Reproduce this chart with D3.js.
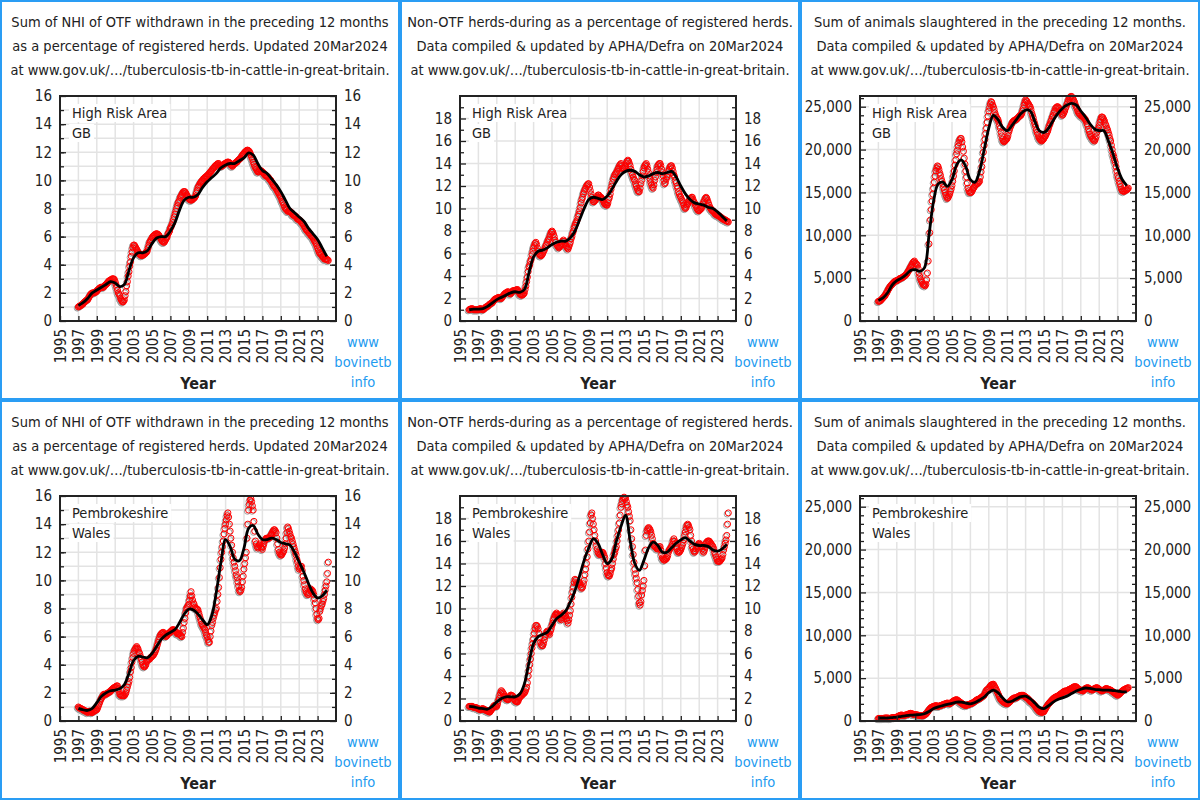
<!DOCTYPE html>
<html><head><meta charset="utf-8">
<script src="https://cdn.jsdelivr.net/npm/d3@7"></script>
<style>
body{margin:0;background:#fff}
svg{display:block}
text{font-family:'DejaVu Sans Condensed','DejaVu Sans',sans-serif}
</style>
</head><body>
<svg id="chart" width="1200" height="800"></svg>
<script>
// ---------- text ----------
const titleNHI = ["Sum of NHI of OTF withdrawn in the preceding 12 months",
  "as a percentage of registered herds. Updated 20Mar2024",
  "at www.gov.uk/…/tuberculosis-tb-in-cattle-in-great-britain."];
const titleNonOTF = ["Non-OTF herds-during as a percentage of registered herds.",
  "Data compiled & updated by APHA/Defra on 20Mar2024",
  "at www.gov.uk/…/tuberculosis-tb-in-cattle-in-great-britain."];
const titleSlaughter = ["Sum of animals slaughtered in the preceding 12 months.",
  "Data compiled & updated by APHA/Defra on 20Mar2024",
  "at www.gov.uk/…/tuberculosis-tb-in-cattle-in-great-britain."];
const areaHRA = ["High Risk Area", "GB"];
const areaPem = ["Pembrokeshire", "Wales"];
const siteLines = ["www", "bovinetb", "info"];
const xLabel = "Year";

// ---------- ticks ----------
const xTickYears = [1995,1997,1999,2001,2003,2005,2007,2009,2011,2013,2015,2017,2019,2021,2023];
const pctTicks16 = [0,2,4,6,8,10,12,14,16];
const pctGrid16 = [1,2,3,4,5,6,7,8,9,10,11,12,13,14,15];
const pctTicks20 = [0,2,4,6,8,10,12,14,16,18];
const pctGrid20 = [2,4,6,8,10,12,14,16,18];
const pctMinor20 = [1,3,5,7,9,11,13,15,17,19];
const animalTicks = [0,5,10,15,20,25];          // thousands
const animalMinor = [1,2,3,4,6,7,8,9,11,12,13,14,16,17,18,19,21,22,23,24,26];

// ---------- data ----------
// points: monthly readings (one row per year); line: half-yearly smoothed readings
const nhiHRA_start = 1997;
const nhiHRA_pts = [
 1.0,1.05,1.05,1.1,1.15,1.2,1.2,1.3,1.35,1.4,1.45,1.5,
 1.5,1.6,1.7,1.8,1.9,1.95,2.0,2.0,2.0,2.0,2.05,2.1,
 2.1,2.2,2.25,2.3,2.35,2.4,2.4,2.4,2.4,2.4,2.5,2.55,
 2.6,2.65,2.7,2.8,2.85,2.9,2.9,2.95,3.0,3.0,3.0,2.95,
 2.8,2.6,2.4,2.2,2.0,1.9,1.8,1.6,1.5,1.4,1.35,1.4,
 1.5,1.8,2.1,2.5,2.8,3.2,3.5,3.9,4.2,4.6,4.9,5.2,
 5.4,5.4,5.3,5.2,5.1,5.0,4.9,4.8,4.75,4.7,4.65,4.65,
 4.7,4.7,4.75,4.8,4.85,4.9,5.0,5.2,5.4,5.6,5.7,5.8,
 5.9,6.0,6.05,6.1,6.15,6.2,6.2,6.2,6.15,6.1,6.0,5.9,
 5.8,5.7,5.65,5.6,5.6,5.7,5.8,5.9,6.0,6.2,6.3,6.4,
 6.6,6.7,6.85,7.0,7.2,7.4,7.6,7.8,8.0,8.2,8.4,8.5,
 8.6,8.8,8.9,9.0,9.1,9.2,9.2,9.2,9.1,9.0,8.9,8.8,
 8.7,8.65,8.6,8.6,8.6,8.65,8.7,8.75,8.8,8.9,9.1,9.3,
 9.5,9.6,9.7,9.8,9.9,9.95,10.0,10.1,10.15,10.2,10.25,10.3,
 10.3,10.4,10.45,10.5,10.6,10.65,10.7,10.8,10.85,10.9,11.0,11.05,
 11.1,11.15,11.2,11.2,11.1,11.05,11.0,11.0,11.05,11.1,11.15,11.2,
 11.2,11.25,11.3,11.3,11.3,11.25,11.2,11.1,11.05,11.0,11.1,11.15,
 11.2,11.25,11.3,11.3,11.4,11.45,11.5,11.55,11.6,11.7,11.8,11.85,
 11.9,12.0,12.05,12.1,12.15,12.15,12.1,12.05,11.95,11.8,11.65,11.5,
 11.3,11.15,11.0,10.9,10.8,10.7,10.6,10.6,10.65,10.7,10.7,10.65,
 10.6,10.55,10.5,10.4,10.35,10.3,10.3,10.25,10.2,10.1,10.05,10.0,
 9.9,9.8,9.7,9.6,9.55,9.5,9.4,9.3,9.2,9.1,9.0,8.9,
 8.8,8.65,8.5,8.4,8.25,8.1,8.0,7.95,7.9,7.8,7.8,7.8,
 7.8,7.75,7.7,7.6,7.55,7.5,7.5,7.45,7.4,7.3,7.25,7.2,
 7.2,7.15,7.1,7.0,6.95,6.9,6.8,6.7,6.6,6.5,6.45,6.4,
 6.3,6.25,6.2,6.1,6.05,6.0,5.9,5.8,5.7,5.6,5.5,5.35,
 5.2,5.05,4.9,4.8,4.75,4.7,4.6,4.55,4.5,4.4,4.4,4.4,
 4.4,4.35,4.3];
const nhiHRA_line = [
 1.1,1.3, 1.6,2.0, 2.2,2.4, 2.6,2.8, 2.7,2.45, 2.6,3.6, 4.5,4.85, 4.85,5.0,
 5.5,5.9, 6.0,6.0, 6.4,7.0, 7.9,8.6, 8.8,8.8, 9.0,9.5, 9.9,10.2, 10.5,10.9,
 11.1,11.2, 11.2,11.4, 11.6,11.95, 11.8,11.2, 10.7,10.5, 10.1,9.7, 9.2,8.6,
 8.0,7.7, 7.4,7.1, 6.6,6.2, 5.8,5.2, 4.6];

const nonOtfHRA_start = 1996;
const nonOtfHRA_pts = [
 1.0,1.05,1.05,1.1,1.1,1.05,1.0,1.0,1.0,1.0,1.0,1.0,
 1.0,1.05,1.1,1.1,1.05,1.0,1.0,1.05,1.1,1.2,1.25,1.3,
 1.3,1.35,1.45,1.5,1.55,1.6,1.6,1.7,1.8,1.9,1.95,2.0,
 2.0,2.05,2.1,2.1,2.05,2.0,2.0,2.1,2.2,2.3,2.4,2.45,
 2.5,2.55,2.6,2.6,2.5,2.45,2.4,2.5,2.6,2.7,2.7,2.7,
 2.7,2.75,2.8,2.8,2.7,2.55,2.4,2.35,2.3,2.3,2.35,2.4,
 2.5,2.8,3.1,3.5,3.9,4.4,4.8,5.0,5.3,5.5,5.9,6.2,
 6.5,6.7,6.9,7.0,6.8,6.5,6.2,6.0,5.9,5.8,5.8,5.9,
 6.0,6.2,6.3,6.5,6.7,6.8,7.0,7.2,7.3,7.5,7.7,7.9,
 8.0,7.9,7.7,7.5,7.2,7.0,6.8,6.7,6.6,6.5,6.6,6.7,
 6.8,6.9,7.1,7.2,7.1,6.9,6.7,6.6,6.5,6.4,6.6,6.8,
 7.0,7.3,7.5,7.8,8.0,8.3,8.5,8.7,8.8,9.0,9.3,9.5,
 9.8,10.1,10.5,10.8,11.0,11.3,11.5,11.7,11.8,12.0,12.1,12.2,
 12.2,11.9,11.6,11.3,11.0,10.8,10.6,10.6,10.7,10.8,10.9,11.0,
 11.2,11.2,11.1,11.0,11.0,10.9,10.8,10.7,10.5,10.4,10.35,10.3,
 10.3,10.5,10.8,11.0,11.3,11.7,12.0,12.3,12.6,12.8,13.0,13.1,
 13.2,13.3,13.5,13.6,13.8,13.9,14.0,13.8,13.6,13.5,13.6,13.7,
 13.8,14.0,14.2,14.3,14.2,14.0,13.8,13.5,13.2,13.0,12.8,12.6,
 12.5,12.2,12.0,11.8,11.6,11.5,11.5,11.8,12.2,12.5,12.9,13.3,
 13.6,13.8,13.9,14.0,13.8,13.5,13.2,12.9,12.6,12.3,12.1,11.9,
 11.8,12.1,12.5,12.8,13.2,13.5,13.8,13.9,14.0,14.0,13.8,13.5,
 13.2,12.9,12.5,12.2,12.3,12.6,12.8,13.0,13.3,13.5,13.7,13.8,
 13.8,13.6,13.3,13.0,12.8,12.5,12.3,12.0,11.8,11.5,11.3,11.1,
 11.0,10.8,10.7,10.5,10.3,10.1,10.0,10.1,10.3,10.4,10.6,10.7,
 10.8,10.9,11.0,11.0,10.8,10.6,10.5,10.3,10.2,10.0,9.9,9.8,
 9.8,9.9,10.0,10.0,10.2,10.4,10.6,10.7,10.9,11.0,10.9,10.7,
 10.5,10.3,10.1,10.0,9.9,9.8,9.8,9.7,9.6,9.5,9.5,9.4,
 9.4,9.4,9.3,9.3,9.2,9.2,9.1,9.1,9.0,9.0,9.0,8.9,
 8.9,8.85,8.8];
const nonOtfHRA_line = [
 1.0,1.05, 1.05,1.1, 1.3,1.6, 1.9,2.1, 2.3,2.5, 2.6,2.55, 2.8,4.3, 5.7,6.2,
 6.3,6.5, 6.8,7.0, 7.1,7.1, 7.4,8.0, 9.0,10.0, 10.8,11.0, 10.9,10.8, 11.1,11.7,
 12.4,13.0, 13.3,13.4, 13.3,13.0, 12.8,12.9, 13.1,13.2, 13.1,13.2, 13.3,12.8,
 12.0,11.3, 10.8,10.5, 10.4,10.3, 10.1,10.0, 9.7,9.3, 8.9];

const slaughterHRA_start = 1997;   // thousands of animals
const slaughterHRA_pts = [
 2.3,2.3,2.35,2.4,2.5,2.6,2.7,2.8,2.9,3.0,3.2,3.3,
 3.5,3.7,3.8,4.0,4.1,4.2,4.3,4.4,4.5,4.6,4.65,4.7,
 4.7,4.75,4.8,4.9,4.95,5.0,5.0,5.05,5.1,5.2,5.25,5.3,
 5.4,5.5,5.65,5.8,5.95,6.1,6.3,6.45,6.6,6.8,6.9,7.0,
 6.8,6.7,6.6,6.5,6.1,5.6,5.2,4.9,4.7,4.5,4.3,4.2,
 4.2,4.1,4.3,4.8,5.6,7.0,9.0,10.3,11.8,13.0,14.0,14.8,
 15.5,16.2,16.9,17.5,17.8,18.1,18.0,17.7,17.3,17.0,16.6,16.3,
 16.0,15.6,15.3,15.0,14.7,14.5,14.3,14.4,14.6,14.8,15.1,15.4,
 15.8,16.3,16.9,17.5,18.2,18.8,19.5,19.9,20.4,20.8,21.1,21.3,
 21.3,20.9,20.3,19.8,19.0,18.3,17.5,16.8,16.1,15.5,15.2,15.0,
 15.0,15.0,15.1,15.3,15.5,15.6,15.8,15.9,16.0,16.0,16.1,16.2,
 16.3,16.8,17.4,18.0,18.8,19.7,20.5,21.2,21.9,22.5,23.2,23.9,
 24.5,24.9,25.3,25.6,25.5,25.2,25.0,24.7,24.3,24.0,23.8,23.6,
 23.5,23.2,22.8,22.5,22.0,21.6,21.2,21.0,20.9,21.0,21.1,21.2,
 21.3,21.6,22.0,22.3,22.6,22.8,23.0,23.2,23.3,23.4,23.4,23.5,
 23.5,23.6,23.7,23.8,23.9,24.0,24.0,24.2,24.5,24.8,25.2,25.5,
 25.8,25.7,25.6,25.4,25.3,25.1,25.0,24.7,24.3,24.0,23.7,23.3,
 23.0,22.7,22.3,22.0,21.8,21.5,21.3,21.2,21.1,21.0,21.1,21.2,
 21.3,21.5,21.6,21.8,22.0,22.2,22.5,22.8,23.0,23.3,23.5,23.8,
 24.0,24.3,24.5,24.8,24.9,25.0,25.0,24.9,24.8,24.6,24.4,24.2,
 24.0,24.1,24.3,24.5,24.8,25.0,25.3,25.5,25.8,26.0,26.1,26.2,
 26.2,26.0,25.9,25.7,25.5,25.2,25.0,24.8,24.5,24.3,24.2,24.1,
 24.0,23.9,23.9,23.8,23.7,23.6,23.5,23.3,23.0,22.8,22.4,22.1,
 21.8,21.6,21.5,21.3,21.2,21.1,21.0,21.2,21.5,22.0,22.3,22.5,
 22.8,23.2,23.5,23.8,23.8,23.7,23.5,23.3,23.0,22.8,22.5,22.3,
 22.0,21.7,21.3,21.0,20.5,20.0,19.5,19.2,18.8,18.5,18.0,17.5,
 17.0,16.7,16.3,16.0,15.7,15.4,15.2,15.2,15.1,15.2,15.2,15.3,
 15.3,15.4,15.5];
const slaughterHRA_line = [
 2.4,2.7, 3.3,4.2, 4.7,5.0, 5.4,5.9, 6.0,5.8, 6.2,10.0, 14.0,16.0, 16.2,15.7,
 16.5,18.2, 18.8,18.0, 16.5,16.2, 17.5,20.0, 22.5,24.0, 23.5,22.6, 22.2,22.8,
 23.5,24.2, 24.6,24.5, 23.3,22.2, 22.0,22.5, 23.4,24.2, 24.8,25.2, 25.4,25.2,
 24.5,23.8, 23.0,22.4, 22.2,22.2, 21.0,19.5, 17.8,16.5, 15.8];

const nhiPem_start = 1997;
const nhiPem_pts = [
 1.0,0.95,0.9,0.9,0.85,0.85,0.8,0.75,0.75,0.7,0.7,0.65,
 0.6,0.65,0.7,0.7,0.65,0.6,0.6,0.65,0.7,0.7,0.75,0.8,
 0.8,0.9,1.05,1.2,1.35,1.5,1.6,1.7,1.8,1.9,1.9,1.9,
 1.9,1.95,2.0,2.0,2.05,2.1,2.1,2.2,2.25,2.3,2.35,2.4,
 2.4,2.45,2.5,2.5,2.3,2.1,1.9,1.85,1.8,1.8,1.8,1.8,
 1.8,1.9,2.0,2.2,2.4,2.6,2.8,3.1,3.5,3.8,4.2,4.5,
 4.8,5.0,5.1,5.2,5.3,5.2,5.1,4.9,4.8,4.6,4.4,4.2,
 4.0,3.9,3.85,3.9,4.0,4.2,4.3,4.35,4.4,4.4,4.5,4.55,
 4.6,4.65,4.7,4.8,4.9,5.05,5.2,5.4,5.6,5.8,5.95,6.1,
 6.2,6.25,6.3,6.3,6.2,6.1,6.0,6.05,6.1,6.2,6.25,6.3,
 6.3,6.4,6.45,6.5,6.5,6.45,6.4,6.35,6.3,6.2,6.2,6.2,
 6.2,6.1,6.05,6.0,6.3,6.6,7.0,7.3,7.7,8.0,8.1,8.2,
 8.3,8.6,8.9,9.2,8.9,8.6,8.4,8.3,8.1,8.0,8.0,7.95,
 7.9,7.7,7.5,7.3,7.1,6.9,6.8,6.7,6.6,6.5,6.3,6.1,
 6.0,5.8,5.6,5.6,6.0,6.4,6.8,7.0,7.3,7.5,7.7,7.9,
 8.0,8.5,9.0,9.5,10.2,10.9,11.5,12.0,12.4,12.8,13.3,13.7,
 14.0,14.3,14.6,14.8,14.5,14.0,13.5,13.0,12.5,12.0,11.6,11.3,
 11.0,10.7,10.4,10.2,9.9,9.6,9.3,9.2,9.3,9.5,9.9,10.3,
 10.8,11.2,11.6,12.0,13.0,14.0,15.0,15.4,15.7,15.8,15.6,15.3,
 15.0,14.2,13.5,12.8,12.6,12.4,12.3,12.4,12.5,12.6,12.4,12.3,
 12.2,12.4,12.6,12.8,12.9,13.0,13.0,13.0,13.0,13.0,13.1,13.2,
 13.3,13.4,13.5,13.6,13.6,13.5,13.4,13.0,12.6,12.2,12.0,11.9,
 11.8,11.8,11.9,12.0,12.1,12.3,12.6,13.0,13.4,13.8,13.7,13.5,
 13.3,13.1,13.0,12.8,12.6,12.4,12.2,12.0,11.8,11.5,11.3,11.0,
 10.8,10.9,11.0,11.0,10.7,10.3,10.0,9.7,9.4,9.2,9.1,9.0,
 9.0,9.1,9.3,9.4,9.3,9.3,9.2,9.0,8.7,8.4,8.0,7.6,
 7.3,7.2,7.3,7.8,8.0,8.2,8.3,8.5,8.7,9.0,9.3,9.6,
 9.9,10.5,11.3];
const nhiPem_line = [
 0.9,0.8, 0.75,0.9, 1.3,1.75, 2.0,2.15, 2.2,2.3, 2.6,3.4, 4.3,4.6, 4.55,4.5,
 4.8,5.3, 5.8,6.1, 6.3,6.5, 7.0,7.6, 7.95,7.9, 7.6,7.2, 6.85,7.5, 9.2,11.3,
 12.9,12.4, 11.5,11.4, 12.3,13.7, 13.9,13.3, 12.9,12.9, 13.0,12.9, 12.7,12.6,
 12.5,12.0, 11.3,10.6, 9.8,9.1, 8.75,8.9, 9.3];

const nonOtfPem_start = 1996;
const nonOtfPem_pts = [
 1.3,1.3,1.3,1.3,1.3,1.25,1.2,1.2,1.2,1.2,1.15,1.1,
 1.1,1.05,1.0,1.0,1.05,1.1,1.1,1.05,1.0,1.0,0.95,0.9,
 0.9,0.85,0.8,0.8,0.9,1.0,1.1,1.2,1.3,1.4,1.35,1.3,
 1.3,1.5,1.8,2.0,2.3,2.5,2.7,2.6,2.5,2.4,2.2,2.1,
 2.0,1.95,1.9,1.9,2.0,2.2,2.3,2.3,2.25,2.2,2.0,1.9,
 1.8,1.75,1.7,1.7,1.8,2.0,2.1,2.2,2.25,2.3,2.4,2.45,
 2.5,2.6,2.8,3.0,3.4,4.0,4.5,5.0,5.5,6.0,6.5,6.9,
 7.3,7.8,8.2,8.5,8.5,8.4,8.2,7.8,7.4,7.0,6.8,6.7,
 6.7,6.9,7.2,7.5,7.7,7.9,8.0,7.9,7.8,7.7,8.0,8.2,
 8.5,8.7,9.0,9.2,9.4,9.5,9.6,9.5,9.4,9.3,9.2,9.1,
 9.0,9.2,9.4,9.6,9.5,9.4,9.3,9.1,8.9,8.7,9.0,9.4,
 9.8,10.4,11.0,11.5,11.9,12.3,12.6,12.5,12.3,12.2,12.2,12.3,
 12.3,12.1,11.9,11.8,11.9,12.2,12.5,13.0,13.5,14.0,14.6,15.3,
 16.0,16.8,17.6,18.3,18.5,18.0,17.5,17.0,16.5,16.0,15.6,15.3,
 15.0,14.9,14.8,14.8,14.9,15.0,15.0,14.9,14.7,14.5,14.0,13.6,
 13.2,13.0,12.9,12.9,13.1,13.4,13.6,14.0,14.4,14.8,15.0,15.3,
 15.5,16.0,16.5,17.0,17.6,18.3,19.0,19.3,19.6,19.8,19.9,19.8,
 19.8,19.5,19.2,19.0,18.6,18.2,17.8,17.0,16.2,15.5,14.8,14.1,
 13.5,13.1,12.7,12.3,11.7,11.1,10.5,10.3,10.6,11.2,11.6,12.0,
 12.5,13.8,15.2,16.5,16.9,17.1,17.2,17.1,17.0,16.8,16.5,16.2,
 15.8,15.6,15.5,15.5,15.4,15.3,15.3,15.4,15.5,15.5,15.2,14.8,
 14.5,14.4,14.3,14.3,14.4,14.4,14.5,14.7,15.0,15.2,15.3,15.4,
 15.5,15.7,16.0,16.2,16.0,15.8,15.5,15.3,15.1,15.0,15.0,15.1,
 15.2,15.4,15.6,15.8,16.1,16.5,16.8,17.1,17.4,17.5,17.4,17.2,
 17.0,16.5,16.0,15.5,15.3,15.1,15.0,15.1,15.3,15.5,15.6,15.7,
 15.8,15.7,15.6,15.5,15.3,15.1,15.0,15.2,15.5,15.8,15.9,16.0,
 16.0,16.0,15.9,15.8,15.7,15.6,15.5,15.3,15.0,14.8,14.6,14.4,
 14.2,14.2,14.2,14.2,14.3,14.4,14.5,14.8,15.2,15.5,15.8,16.1,
 16.5,17.5,18.5];
const nonOtfPem_line = [
 1.3,1.25, 1.15,1.1, 1.05,1.3, 1.7,2.0, 2.15,2.15, 2.15,2.4, 3.3,5.2, 6.9,7.5,
 7.7,7.9, 8.5,9.1, 9.4,9.8, 10.6,11.6, 12.9,14.3, 15.4,16.2, 15.8,14.8, 14.0,14.4,
 16.0,17.3, 18.3,16.0, 14.0,13.4, 14.3,15.4, 15.9,15.6, 15.0,15.0, 15.4,15.8,
 16.1,16.3, 16.0,15.7, 15.6,15.6, 15.5,15.2, 15.1,15.3, 15.7];

const slaughterPem_start = 1997;   // thousands of animals
const slaughterPem_pts = [
 0.3,0.3,0.3,0.3,0.3,0.3,0.3,0.32,0.34,0.35,0.35,0.35,
 0.35,0.33,0.32,0.3,0.32,0.35,0.4,0.4,0.4,0.4,0.42,0.44,
 0.45,0.5,0.55,0.6,0.65,0.68,0.7,0.68,0.66,0.65,0.67,0.69,
 0.7,0.73,0.77,0.8,0.83,0.87,0.9,0.87,0.83,0.8,0.78,0.76,
 0.75,0.73,0.72,0.7,0.68,0.66,0.65,0.63,0.62,0.6,0.63,0.66,
 0.7,0.77,0.83,0.9,1.03,1.17,1.3,1.4,1.5,1.6,1.63,1.67,
 1.7,1.73,1.77,1.8,1.77,1.73,1.7,1.73,1.77,1.8,1.83,1.87,
 1.9,1.93,1.97,2.0,2.03,2.07,2.1,2.07,2.03,2.0,2.07,2.13,
 2.2,2.27,2.33,2.4,2.43,2.47,2.5,2.43,2.37,2.3,2.23,2.17,
 2.1,2.03,1.97,1.9,1.87,1.83,1.8,1.83,1.87,1.9,1.93,1.97,
 2.0,2.03,2.07,2.1,2.17,2.23,2.3,2.37,2.43,2.5,2.53,2.57,
 2.6,2.67,2.73,2.8,2.87,2.93,3.0,3.2,3.4,3.6,3.67,3.73,
 3.8,3.93,4.07,4.2,4.23,4.27,4.3,4.13,3.97,3.8,3.6,3.4,
 3.2,3.0,2.8,2.6,2.5,2.4,2.3,2.23,2.17,2.1,2.07,2.03,
 2.0,2.07,2.13,2.2,2.3,2.4,2.5,2.57,2.63,2.7,2.7,2.7,
 2.7,2.77,2.83,2.9,2.93,2.97,3.0,3.0,3.0,3.0,2.93,2.87,
 2.8,2.73,2.67,2.6,2.5,2.4,2.3,2.23,2.17,2.1,2.0,1.9,
 1.8,1.67,1.53,1.4,1.3,1.2,1.1,1.07,1.03,1.0,1.03,1.07,
 1.1,1.27,1.43,1.6,1.73,1.87,2.0,2.1,2.2,2.3,2.4,2.5,
 2.6,2.67,2.73,2.8,2.83,2.87,2.9,2.97,3.03,3.1,3.17,3.23,
 3.3,3.37,3.43,3.5,3.5,3.5,3.5,3.57,3.63,3.7,3.73,3.77,
 3.8,3.87,3.93,4.0,4.0,4.0,4.0,3.9,3.8,3.7,3.67,3.63,
 3.6,3.57,3.53,3.5,3.6,3.7,3.8,3.83,3.87,3.9,3.83,3.77,
 3.7,3.67,3.63,3.6,3.67,3.73,3.8,3.83,3.87,3.9,3.83,3.77,
 3.7,3.63,3.57,3.5,3.53,3.57,3.6,3.67,3.73,3.8,3.77,3.73,
 3.7,3.67,3.63,3.6,3.53,3.47,3.4,3.33,3.27,3.2,3.13,3.07,
 3.0,3.07,3.13,3.2,3.3,3.4,3.5,3.57,3.63,3.7,3.73,3.77,
 3.8,3.85,3.9];
const slaughterPem_line = [
 0.35,0.35, 0.35,0.4, 0.45,0.55, 0.62,0.68, 0.72,0.75, 0.85,1.1, 1.45,1.65, 1.8,1.95,
 2.05,2.2, 2.2,2.1, 2.0,2.15, 2.45,2.8, 3.3,3.6, 3.3,2.7, 2.25,2.3, 2.6,2.85,
 2.9,2.6, 2.1,1.6, 1.45,1.8, 2.2,2.5, 2.7,2.9, 3.2,3.5, 3.7,3.85, 3.8,3.7,
 3.65,3.6, 3.6,3.55, 3.5,3.4, 3.4];

// ---------- panels ----------
const fmtPct = d => d3.format("d")(d);
const fmtAnimals = d => d3.format(",")(d * 1000);
const panels = [
 {ox:0,   oy:0,   title:titleNHI,       area:areaHRA, yMax:16,    ticks:pctTicks16, grid:pctGrid16, minor:pctGrid16, fmt:fmtPct,     start:nhiHRA_start,       pts:nhiHRA_pts,       line:nhiHRA_line},
 {ox:400, oy:0,   title:titleNonOTF,    area:areaHRA, yMax:20,    ticks:pctTicks20, grid:pctGrid20, minor:pctMinor20, fmt:fmtPct,    start:nonOtfHRA_start,    pts:nonOtfHRA_pts,    line:nonOtfHRA_line},
 {ox:800, oy:0,   title:titleSlaughter, area:areaHRA, yMax:26.25, ticks:animalTicks, grid:animalTicks, minor:animalMinor, fmt:fmtAnimals, start:slaughterHRA_start, pts:slaughterHRA_pts, line:slaughterHRA_line},
 {ox:0,   oy:400, title:titleNHI,       area:areaPem, yMax:16,    ticks:pctTicks16, grid:pctGrid16, minor:pctGrid16, fmt:fmtPct,     start:nhiPem_start,       pts:nhiPem_pts,       line:nhiPem_line},
 {ox:400, oy:400, title:titleNonOTF,    area:areaPem, yMax:20,    ticks:pctTicks20, grid:pctGrid20, minor:pctMinor20, fmt:fmtPct,    start:nonOtfPem_start,    pts:nonOtfPem_pts,    line:nonOtfPem_line},
 {ox:800, oy:400, title:titleSlaughter, area:areaPem, yMax:26.25, ticks:animalTicks, grid:animalTicks, minor:animalMinor, fmt:fmtAnimals, start:slaughterPem_start, pts:slaughterPem_pts, line:slaughterPem_line}
];

const svg = d3.select("#chart");
const PL = 60, PR = 336, PT = 96, PB = 321;
const BLUE = "#1e9bf0", TXT = "#222";
const FONT = "'DejaVu Sans Condensed','DejaVu Sans',sans-serif";

panels.forEach(p => {
  const g = svg.append("g").attr("transform", `translate(${p.ox},${p.oy})`);
  g.append("rect").attr("x",1).attr("y",1).attr("width",398).attr("height",398)
    .attr("fill","#fff").attr("stroke","#2a9df4").attr("stroke-width",2);

  // title
  g.selectAll("text.title").data(p.title).join("text").attr("class","title")
    .attr("x",200).attr("y",(d,i)=>27+i*24).attr("text-anchor","middle")
    .attr("font-size",14.5).attr("fill",TXT).text(d=>d);

  const x = d3.scaleLinear().domain([1995,2025]).range([PL,PR]);
  const y = d3.scaleLinear().domain([0,p.yMax]).range([PB,PT]);

  // grid
  g.append("g").selectAll("line").data(xTickYears.slice(1)).join("line")
    .attr("x1",d=>x(d)).attr("x2",d=>x(d)).attr("y1",PT).attr("y2",PB)
    .attr("stroke","#e3e3e3").attr("stroke-width",1.5);
  g.append("g").selectAll("line").data(p.grid).join("line")
    .attr("x1",PL).attr("x2",PR).attr("y1",d=>y(d)).attr("y2",d=>y(d))
    .attr("stroke","#e3e3e3").attr("stroke-width",1.5);

  // area label with white backing
  const lab = g.append("g");
  p.area.forEach((t,i) => {
    const tx = lab.append("text").attr("x",72).attr("y",118+i*20)
      .attr("font-size",14.5).attr("fill",TXT).text(t);
    const b = tx.node().getBBox();
    lab.insert("rect","text").attr("x",b.x-3).attr("y",b.y-1)
      .attr("width",b.width+6).attr("height",b.height+2).attr("fill","#fff");
  });

  // points: grey under, red over
  const dates = p.pts.map((v,i)=>p.start + i/12);
  g.append("g").selectAll("circle").data(p.pts).join("circle")
    .attr("cx",(d,i)=>x(dates[i])-1.2).attr("cy",d=>y(d)+1.2).attr("r",3)
    .attr("fill","none").attr("stroke","#a0a0a0").attr("stroke-width",1);
  g.append("g").selectAll("circle").data(p.pts).join("circle")
    .attr("cx",(d,i)=>x(dates[i])).attr("cy",d=>y(d)).attr("r",3)
    .attr("fill","none").attr("stroke","#ff0000").attr("stroke-width",1);

  // smoothed line
  const ldates = p.line.map((v,i)=>p.start + i*0.5);
  const lineGen = d3.line().x((d,i)=>x(ldates[i])).y(d=>y(d)).curve(d3.curveCatmullRom.alpha(0.5));
  g.append("path").datum(p.line).attr("d",lineGen)
    .attr("fill","none").attr("stroke","#000").attr("stroke-width",2.8);

  // frame
  g.append("rect").attr("x",PL).attr("y",PT).attr("width",PR-PL).attr("height",PB-PT)
    .attr("fill","none").attr("stroke","#222").attr("stroke-width",2);

  // axes
  const styleAxis = sel => { sel.select(".domain").remove();
    sel.selectAll("line").attr("stroke","#222").attr("stroke-width",1.3);
    sel.selectAll("text").attr("font-size",15).attr("fill",TXT).attr("font-family",FONT); };
  g.append("g").attr("transform",`translate(${PL},0)`)
    .call(d3.axisLeft(y).tickValues(p.minor).tickSize(-4).tickFormat("")).call(styleAxis);
  g.append("g").attr("transform",`translate(${PR},0)`)
    .call(d3.axisRight(y).tickValues(p.minor).tickSize(-4).tickFormat("")).call(styleAxis);
  g.append("g").attr("transform",`translate(${PL},0)`)
    .call(d3.axisLeft(y).tickValues(p.ticks).tickSize(-6).tickPadding(8).tickFormat(p.fmt)).call(styleAxis);
  g.append("g").attr("transform",`translate(${PR},0)`)
    .call(d3.axisRight(y).tickValues(p.ticks).tickSize(-6).tickPadding(8).tickFormat(p.fmt)).call(styleAxis);
  const xa = g.append("g").attr("transform",`translate(0,${PB})`)
    .call(d3.axisBottom(x).tickValues(xTickYears).tickSize(-5).tickFormat(d3.format("d"))).call(styleAxis);
  xa.selectAll("text").attr("transform","rotate(-90)").attr("text-anchor","end")
    .attr("x",-8).attr("y",0).attr("dy","0.35em");

  // axis title
  g.append("text").attr("x",(PL+PR)/2).attr("y",389).attr("text-anchor","middle")
    .attr("font-size",16).attr("font-weight","bold").attr("fill",TXT).text(xLabel);

  // site credit
  g.selectAll("text.site").data(siteLines).join("text").attr("class","site")
    .attr("x",363).attr("y",(d,i)=>347+i*20).attr("text-anchor","middle")
    .attr("font-size",14.5).attr("fill",BLUE).text(d=>d);
});
</script>
</body></html>
